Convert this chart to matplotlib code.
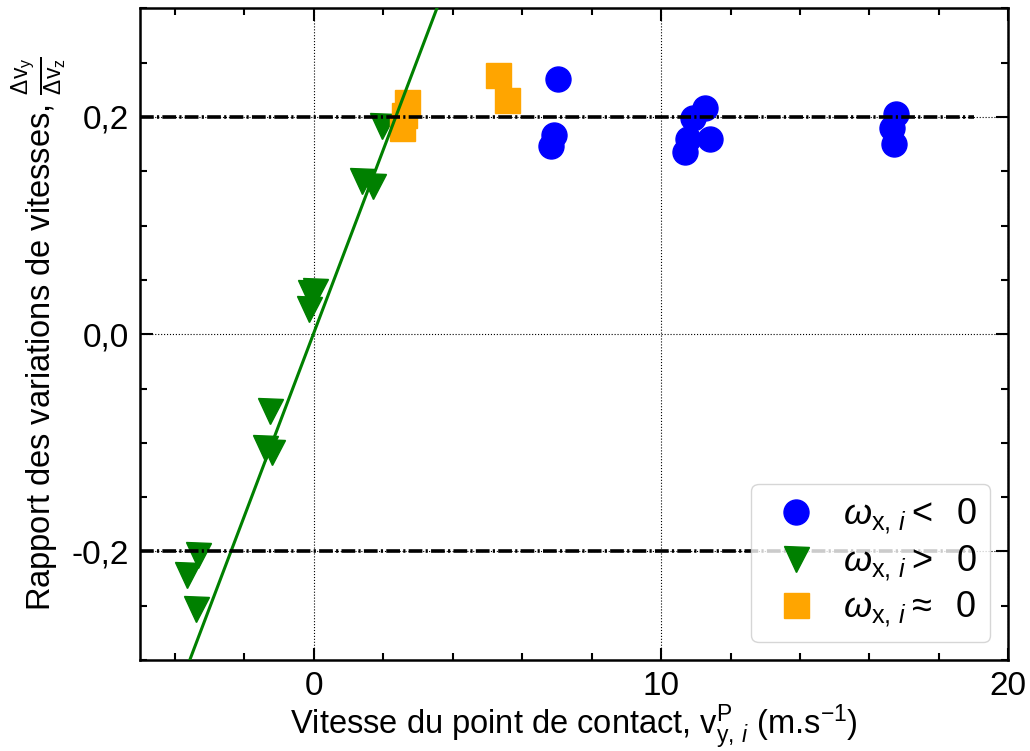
import numpy as np
import matplotlib
matplotlib.use("Agg")
import matplotlib.pyplot as plt
from matplotlib.ticker import MultipleLocator, FuncFormatter

plt.rcParams["font.family"] = ["Liberation Sans", "DejaVu Sans"]
plt.rcParams["mathtext.fontset"] = "custom"
plt.rcParams["mathtext.rm"] = "Liberation Sans"
plt.rcParams["mathtext.it"] = "Liberation Sans:italic"
plt.rcParams["mathtext.bf"] = "Liberation Sans:bold"

# omega_x,i < 0
neg_x = [7.03, 6.92, 6.83, 10.92, 11.27, 10.78, 11.41, 10.69, 16.77, 16.66, 16.71]
neg_y = [0.235, 0.183, 0.173, 0.199, 0.208, 0.180, 0.180, 0.168, 0.203, 0.190, 0.175]
# omega_x,i > 0
pos_x = [1.96, 1.40, 1.70, -0.12, 0.03, -0.14, -1.27, -1.41, -1.21, -3.34, -3.66, -3.40]
pos_y = [0.192, 0.141, 0.136, 0.038, 0.040, 0.023, -0.071, -0.105, -0.108, -0.203, -0.222, -0.253]
# omega_x,i ~ 0
zero_x = [2.68, 2.60, 2.54, 5.30, 5.56]
zero_y = [0.214, 0.202, 0.190, 0.239, 0.216]

# linear fit on omega > 0 points
fit_slope = 0.0843
fit_intercept = 0.001

fig = plt.figure(figsize=(10.3, 7.51), dpi=100)
ax = fig.add_axes([0.136, 0.121, 0.843, 0.868])

ax.plot(neg_x, neg_y, "o", color="blue", ms=18, ls="none", label=r"$\omega_{\rm x,\,\it i} <\;$ 0", zorder=3)
ax.plot(pos_x, pos_y, "v", color="green", ms=18, ls="none", label=r"$\omega_{\rm x,\,\it i} >\;$ 0", zorder=3)
ax.plot(zero_x, zero_y, "s", color="orange", ms=18, ls="none", label=r"$\omega_{\rm x,\,\it i} \approx\;$ 0", zorder=3)

xs = np.array([-5, 20])
ax.plot(xs, fit_slope * xs + fit_intercept, color="green", lw=2.2, zorder=4)

for yl in (0.2, -0.2):
    ax.plot([-5, 19], [yl, yl], color="black", lw=2.6, ls=(0, (3.8, 0.9, 0.6, 0.9)), zorder=4)

ax.set_xlim(-5, 20)
ax.set_ylim(-0.3, 0.3)
ax.xaxis.set_major_locator(MultipleLocator(10))
ax.xaxis.set_minor_locator(MultipleLocator(2))
ax.yaxis.set_major_locator(MultipleLocator(0.2))
ax.yaxis.set_minor_locator(MultipleLocator(0.05))
ax.yaxis.set_major_formatter(FuncFormatter(lambda v, p: f"{v:.1f}".replace(".", ",").replace("-0,0", "0,0")))
ax.grid(True, which="major", color="black", ls=":", lw=0.8)
ax.tick_params(which="both", direction="in", top=True, right=True, labelsize=24, width=1.5)
ax.tick_params(which="major", length=9, pad=8)
ax.tick_params(which="minor", length=5)
for s in ax.spines.values():
    s.set_linewidth(1.8)

ax.set_xlabel(r"Vitesse du point de contact, $\rm v^{P}_{y,\,\it i}$ (m.s$^{-1}$)", fontsize=23.5, labelpad=0)
ax.set_ylabel(r"Rapport des variations de vitesses, $\frac{\Delta \rm v_y}{\Delta \rm v_z}$", fontsize=23.5, labelpad=2)

leg = ax.legend(loc="lower right", fontsize=26, handlelength=1.8, handletextpad=0.4,
                borderpad=0.35, labelspacing=0.2)
leg.set_zorder(10)

fig.savefig("out.png", dpi=100)
